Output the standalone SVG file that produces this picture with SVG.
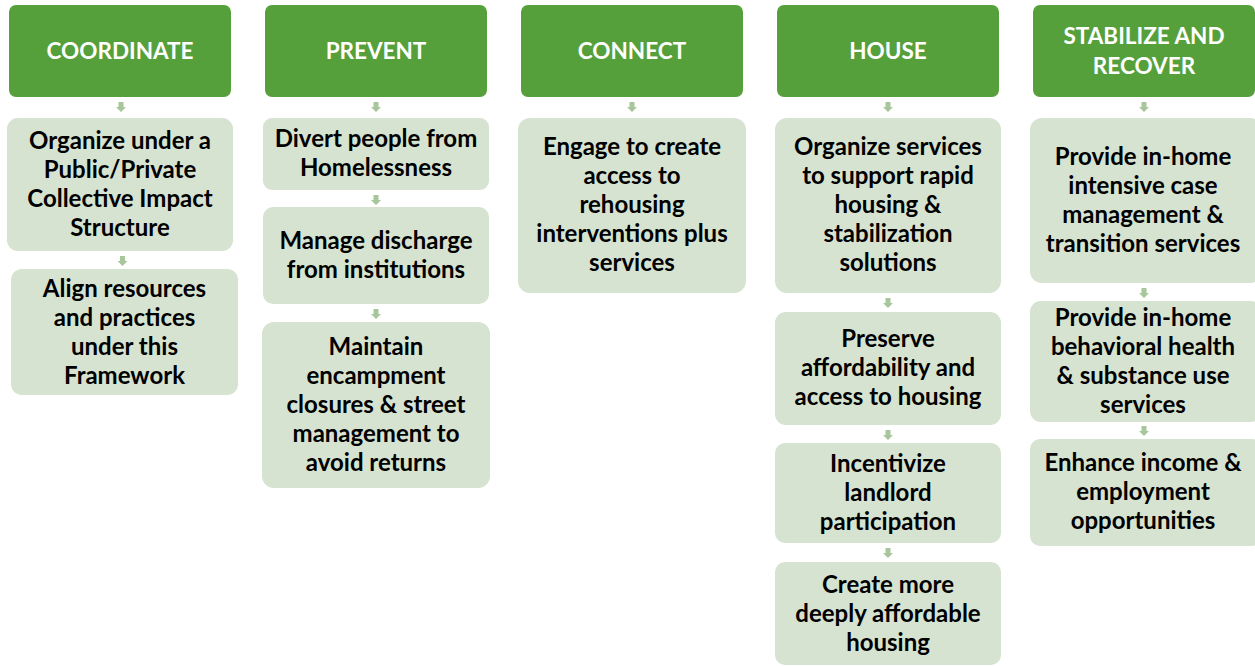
<svg xmlns="http://www.w3.org/2000/svg" width="1255" height="666" viewBox="0 0 1255 666">
<style>
.hdr{fill:#55a03b}
.box{fill:#d6e3d0}
.arw{fill:#a8c69b}
text{font-family:"Lato","Liberation Sans",sans-serif;font-weight:bold;text-anchor:middle}
.ht{fill:#ffffff;font-size:22.5px}
.bt{fill:#000000;font-size:24px}
</style>
<defs>
<path id="dn" d="M-2.5,0 h5 v5 h2.5 l-5,5 l-5,-5 h2.5 z"/>
</defs>
<g id="connectors" class="arw">
<use href="#dn" x="121" y="102"/>
<use href="#dn" x="122.5" y="256"/>
<use href="#dn" x="376" y="102"/>
<use href="#dn" x="376" y="195"/>
<use href="#dn" x="376" y="309"/>
<use href="#dn" x="632" y="102"/>
<use href="#dn" x="888" y="102"/>
<use href="#dn" x="888" y="298"/>
<use href="#dn" x="888" y="430"/>
<use href="#dn" x="888" y="548"/>
<use href="#dn" x="1144" y="102"/>
<use href="#dn" x="1144" y="288"/>
<use href="#dn" x="1144" y="426"/>
</g>
<g id="coordinate">
<rect class="hdr" x="9" y="5" width="222" height="92" rx="7"/>
<text class="ht" x="120" y="59">COORDINATE</text>
</g>
<g id="prevent">
<rect class="hdr" x="265" y="5" width="222" height="92" rx="7"/>
<text class="ht" x="376" y="59">PREVENT</text>
</g>
<g id="connect">
<rect class="hdr" x="521" y="5" width="222" height="92" rx="7"/>
<text class="ht" x="632" y="59">CONNECT</text>
</g>
<g id="house">
<rect class="hdr" x="777" y="5" width="222" height="92" rx="7"/>
<text class="ht" x="888" y="59">HOUSE</text>
</g>
<g id="stabilize">
<rect class="hdr" x="1033" y="5" width="222" height="92" rx="7"/>
<text class="ht" x="1144" y="44">STABILIZE AND</text>
<text class="ht" x="1144" y="74">RECOVER</text>
</g>
<g id="organize">
<rect class="box" x="7" y="118" width="226" height="133" rx="11"/>
<text class="bt" x="120" y="149">Organize under a</text>
<text class="bt" x="120" y="178">Public/Private</text>
<text class="bt" x="120" y="207">Collective Impact</text>
<text class="bt" x="120" y="236">Structure</text>
</g>
<g id="align">
<rect class="box" x="11" y="269" width="227" height="126" rx="11"/>
<text class="bt" x="124.5" y="297">Align resources</text>
<text class="bt" x="124.5" y="326">and practices</text>
<text class="bt" x="124.5" y="355">under this</text>
<text class="bt" x="124.5" y="384">Framework</text>
</g>
<g id="divert">
<rect class="box" x="263" y="118" width="226" height="72" rx="9"/>
<text class="bt" x="376" y="147">Divert people from</text>
<text class="bt" x="376" y="176">Homelessness</text>
</g>
<g id="discharge">
<rect class="box" x="263" y="207" width="226" height="97" rx="10"/>
<text class="bt" x="376" y="249">Manage discharge</text>
<text class="bt" x="376" y="278">from institutions</text>
</g>
<g id="encampment">
<rect class="box" x="262" y="322" width="228" height="166" rx="12"/>
<text class="bt" x="376" y="355">Maintain</text>
<text class="bt" x="376" y="384">encampment</text>
<text class="bt" x="376" y="413">closures &amp; street</text>
<text class="bt" x="376" y="442">management to</text>
<text class="bt" x="376" y="471">avoid returns</text>
</g>
<g id="engage">
<rect class="box" x="518" y="118" width="228" height="175" rx="12"/>
<text class="bt" x="632" y="155">Engage to create</text>
<text class="bt" x="632" y="184">access to</text>
<text class="bt" x="632" y="213">rehousing</text>
<text class="bt" x="632" y="242">interventions plus</text>
<text class="bt" x="632" y="271">services</text>
</g>
<g id="organize-services">
<rect class="box" x="775" y="118" width="226" height="175" rx="12"/>
<text class="bt" x="888" y="155">Organize services</text>
<text class="bt" x="888" y="184">to support rapid</text>
<text class="bt" x="888" y="213">housing &amp;</text>
<text class="bt" x="888" y="242">stabilization</text>
<text class="bt" x="888" y="271">solutions</text>
</g>
<g id="preserve">
<rect class="box" x="775" y="312" width="226" height="113" rx="11"/>
<text class="bt" x="888" y="347">Preserve</text>
<text class="bt" x="888" y="376">affordability and</text>
<text class="bt" x="888" y="405">access to housing</text>
</g>
<g id="incentivize">
<rect class="box" x="775" y="443" width="226" height="100" rx="10"/>
<text class="bt" x="888" y="472">Incentivize</text>
<text class="bt" x="888" y="501">landlord</text>
<text class="bt" x="888" y="530">participation</text>
</g>
<g id="create">
<rect class="box" x="775" y="562" width="226" height="103" rx="10"/>
<text class="bt" x="888" y="593">Create more</text>
<text class="bt" x="888" y="622">deeply affordable</text>
<text class="bt" x="888" y="651">housing</text>
</g>
<g id="case-management">
<rect class="box" x="1030" y="118" width="232" height="165" rx="12"/>
<text class="bt" x="1143" y="165">Provide in-home</text>
<text class="bt" x="1143" y="194">intensive case</text>
<text class="bt" x="1143" y="223">management &amp;</text>
<text class="bt" x="1143" y="252">transition services</text>
</g>
<g id="behavioral-health">
<rect class="box" x="1030" y="301" width="232" height="121" rx="11"/>
<text class="bt" x="1143" y="326">Provide in-home</text>
<text class="bt" x="1143" y="355">behavioral health</text>
<text class="bt" x="1143" y="384">&amp; substance use</text>
<text class="bt" x="1143" y="413">services</text>
</g>
<g id="income">
<rect class="box" x="1030" y="439" width="232" height="107" rx="10"/>
<text class="bt" x="1143" y="471">Enhance income &amp;</text>
<text class="bt" x="1143" y="500">employment</text>
<text class="bt" x="1143" y="529">opportunities</text>
</g>
</svg>
